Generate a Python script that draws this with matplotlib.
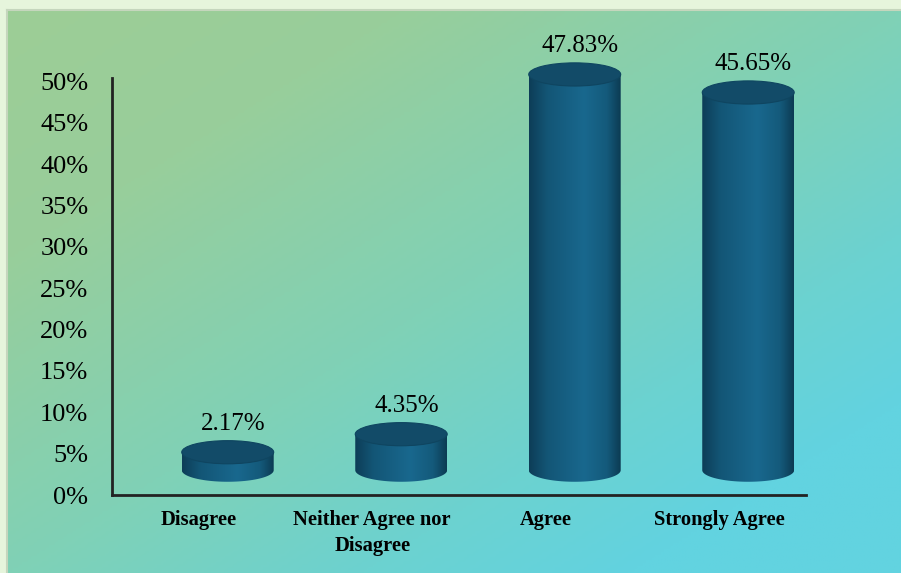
import numpy as np
import matplotlib
matplotlib.use("Agg")
import matplotlib.pyplot as plt
from matplotlib.path import Path
from matplotlib.patches import Ellipse, PathPatch
from matplotlib.colors import LinearSegmentedColormap

categories = ["Disagree", "Neither Agree nor\nDisagree", "Agree", "Strongly Agree"]
values = [2.17, 4.35, 47.83, 45.65]
yticks = [0, 5, 10, 15, 20, 25, 30, 35, 40, 45, 50]
ytick_labels = [f"{v}%" for v in yticks]

W, H = 901, 573
fig = plt.figure(figsize=(W / 100, H / 100), dpi=100)
fig.patch.set_facecolor("#e6f5dc")

# background panel with diagonal gradient
bg = fig.add_axes([7 / W, 0, 1 - 7 / W, 1 - 10 / H])
bg.set_axis_off()
ny, nx = 200, 300
yy, xx = np.mgrid[0:1:ny * 1j, 0:1:nx * 1j]
t = np.clip(0.5 * xx + 0.5 * yy, 0, 1)
bg_cmap = LinearSegmentedColormap.from_list(
    "bg", [(0, "#9dcd96"), (0.22, "#98ce9b"), (0.5, "#80d1b6"),
           (0.7, "#6cd2d0"), (0.85, "#62d3e0"), (1, "#62d3e0")])
bg.imshow(t, cmap=bg_cmap, aspect="auto", extent=[0, 1, 0, 1], origin="upper")
bg.set_xlim(0, 1); bg.set_ylim(0, 1)
bg.plot([0, 0], [0, 1], color="#c5d6bd", lw=1.5, transform=bg.transAxes, clip_on=False)
bg.plot([0, 1], [1, 1], color="#c5d6bd", lw=1.5, transform=bg.transAxes, clip_on=False)

ymax = 56.0
ymax_axis = 50.4
ppu = (495 - 78) / ymax_axis
ax_top = 495 - ymax * ppu
ax = fig.add_axes([112 / W, 78 / H, (806 - 112) / W, (495 - ax_top) / H])
ax.set_facecolor("none")
ax.set_xlim(-0.5, 3.5)
ax.set_ylim(0, ymax)

serif = ["Liberation Serif", "DejaVu Serif"]
x = np.arange(len(categories))

base = 3.0       # 3-D depth offset (data units)
ew = 0.53        # cylinder width
eh = 2.8         # ellipse height
dx = 0.167       # 3-D x-offset

body_cmap = LinearSegmentedColormap.from_list(
    "body", [(0, "#0d3d57"), (0.2, "#135676"), (0.6, "#19688e"), (0.85, "#145a7b"), (1, "#0c3b53")])
grad = np.linspace(0, 1, 256).reshape(1, -1)

for xi, v in zip(x, values):
    cx = xi + dx
    top = base + v
    x0, x1 = cx - ew / 2, cx + ew / 2
    th = np.linspace(np.pi, 2 * np.pi, 60)
    bx = cx + (ew / 2) * np.cos(th)
    by = base + (eh / 2) * np.sin(th)
    verts = [(x0, top), (x1, top)] + [(x1, base)] + list(zip(bx[::-1], by[::-1]))[1:] + [(x0, top)]
    path = Path(verts, closed=True)
    clip = PathPatch(path, facecolor="none", edgecolor="none", transform=ax.transData)
    ax.add_patch(clip)
    im = ax.imshow(grad, cmap=body_cmap, aspect="auto",
                   extent=[x0, x1, base - eh / 2, top], zorder=2)
    im.set_clip_path(clip)
    ax.add_patch(Ellipse((cx, top), ew, eh, facecolor="#124b68", edgecolor="#0f4560", lw=0.8, zorder=3))
    ax.text(cx + 0.03, top + 3.4, f"{v:.2f}%", ha="center", va="center",
            fontsize=18, family=serif, color="black", clip_on=False)

ax.set_xticks(x)
ax.set_xticklabels(categories, fontsize=14.8, family=serif, fontweight="bold", linespacing=1.4)
ax.set_yticks(yticks)
ax.set_yticklabels(ytick_labels, fontsize=19, family=serif)
ax.tick_params(axis="both", length=0)
ax.tick_params(axis="y", pad=17)
ax.tick_params(axis="x", pad=11)
for s in ["top", "right"]:
    ax.spines[s].set_visible(False)
for s in ["left", "bottom"]:
    ax.spines[s].set_color("#222222")
    ax.spines[s].set_linewidth(2)
ax.spines["left"].set_bounds(0, ymax_axis)

fig.savefig("out.png", dpi=100, facecolor=fig.get_facecolor())
